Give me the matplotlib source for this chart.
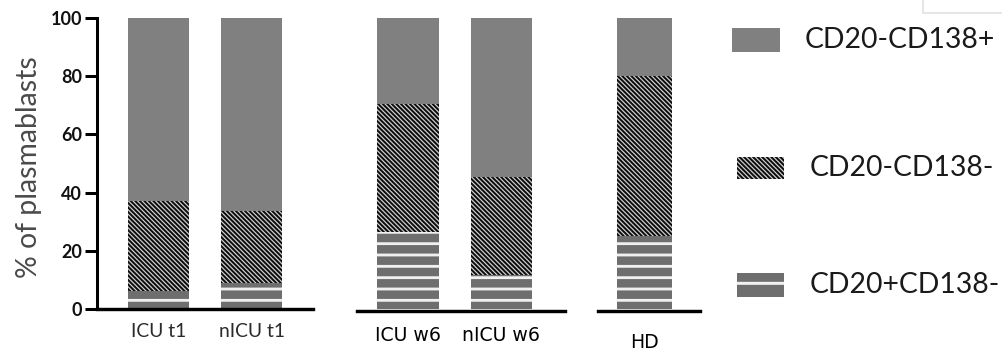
import matplotlib
matplotlib.use("Agg")
import matplotlib.pyplot as plt
from matplotlib.patches import Rectangle

# Stacked plasmablast subsets (% of plasmablasts), bottom to top
groups = [["ICU t1", "nICU t1"], ["ICU w6", "nICU w6"], ["HD"]]
series_names = ["CD20-CD138+", "CD20-CD138-", "CD20+CD138-"]
cd20pos_cd138neg = [[6.3, 9.0], [26.5, 11.7], [25.0]]
cd20neg_cd138neg = [[30.7, 24.7], [44.0, 33.8], [55.0]]
cd20neg_cd138pos = [[63.0, 66.3], [29.5, 54.5], [20.0]]
yticks = [0, 20, 40, 60, 80, 100]

DPI = 136
W, H = 1002, 353
FONT = "Lato"

styles = {
    "CD20-CD138+": dict(face="#808080", hcolor="#808080", hatch=None, hlw=1.0),
    "CD20-CD138-": dict(face="#0c0c0c", hcolor="#d0d0d0", hatch="\\" * 10, hlw=0.65),
    "CD20+CD138-": dict(face="#6e6e6e", hcolor="#f0f0f0", hatch="--", hlw=1.5),
}
# the legend swatch for the striped series shows a single stripe
legend_hatch = {"CD20+CD138-": ("-", 1.6)}


def styled_bar(ax, x, height, width, bottom, name):
    st = styles[name]
    with plt.rc_context({"hatch.linewidth": st["hlw"]}):
        bars = ax.bar(x, height, width, bottom=bottom, color=st["face"],
                      edgecolor=st["hcolor"], linewidth=0, hatch=st["hatch"])
    for p in bars:
        if hasattr(p, "set_hatch_linewidth"):
            p.set_hatch_linewidth(st["hlw"])
    return bars


def px_axes(fig, left, right, top, bottom):
    return fig.add_axes([left / W, 1 - bottom / H, (right - left) / W, (bottom - top) / H])


fig = plt.figure(figsize=(W / DPI, H / DPI), dpi=DPI)

# panel geometry: (left, right) in pixels, xlim, bar width, label font size, label y
panels = [
    dict(lr=(97, 313), xlim=(-0.661, 1.661), width=0.656, fs=10.2, lab_y=333),
    dict(lr=(357, 565), xlim=(-0.545, 1.68), width=0.66, fs=10.0, lab_y=333),
    dict(lr=(598, 700), xlim=(-0.507, 0.605), width=0.6, fs=7.4, lab_y=338),
]

axes = []
for gi, pan in enumerate(panels):
    ax = px_axes(fig, pan["lr"][0], pan["lr"][1], 18, 309)
    cats = groups[gi]
    xs = list(range(len(cats)))
    b1 = cd20pos_cd138neg[gi]
    b2 = cd20neg_cd138neg[gi]
    b3 = cd20neg_cd138pos[gi]
    styled_bar(ax, xs, b1, pan["width"], [0] * len(xs), "CD20+CD138-")
    styled_bar(ax, xs, b2, pan["width"], b1, "CD20-CD138-")
    styled_bar(ax, xs, b3, pan["width"], [a + b for a, b in zip(b1, b2)], "CD20-CD138+")
    ax.set_xlim(*pan["xlim"])
    ax.set_ylim(0, 100)
    ax.patch.set_visible(False)
    for s in ["top", "right"]:
        ax.spines[s].set_visible(False)
    ax.spines["bottom"].set_linewidth(1.8)
    ax.spines["bottom"].set_color("black")
    ax.set_xticks(xs)
    ax.set_xticklabels(cats, fontfamily=FONT, fontsize=pan["fs"], color="#2a2a2a")
    ax.tick_params(axis="x", length=0, pad=(pan["lab_y"] - 309) * 72 / DPI - pan["fs"] * 0.5)
    if gi == 0:
        ax.spines["left"].set_linewidth(1.6)
        ax.set_yticks(yticks)
        ax.set_yticklabels([str(t) for t in yticks], fontfamily=FONT,
                           fontweight="bold", fontsize=9.5, color="#111111")
        ax.tick_params(axis="y", length=6.3, width=1.6, pad=1.5)
        ax.text((29 - 97) / 216, (309 - 167) / 291, "% of plasmablasts",
                transform=ax.transAxes, rotation=90, ha="center", va="center",
                fontfamily=FONT, fontsize=15, color="#4a4a4a")
    else:
        ax.spines["left"].set_visible(False)
        ax.spines["bottom"].set_position(("outward", 1.2))
        ax.set_yticks([])
    axes.append(ax)

# legend drawn in pixel space
lax = fig.add_axes([0, 0, 1, 1])
lax.set_xlim(0, W)
lax.set_ylim(H, 0)
lax.axis("off")
legend_boxes = {
    "CD20-CD138+": ((732, 28, 48, 24), 805, 40),
    "CD20-CD138-": ((737, 157, 47, 22), 810, 168),
    "CD20+CD138-": ((737, 273, 47, 24), 810, 285),
}
for name in series_names:
    (x0, y0, w, h), tx, ty = legend_boxes[name]
    st = styles[name]
    hatch, hlw = legend_hatch.get(name, (st["hatch"], st["hlw"]))
    with plt.rc_context({"hatch.linewidth": hlw}):
        r = Rectangle((x0, y0), w, h, facecolor=st["face"], edgecolor=st["hcolor"],
                      linewidth=0, hatch=hatch)
    if hasattr(r, "set_hatch_linewidth"):
        r.set_hatch_linewidth(hlw)
    lax.add_patch(r)
    lax.text(tx, ty, name, fontfamily=FONT, fontsize=15, color="#1a1a1a",
             va="center", ha="left")

# thin frame fragment in the top-right corner
lax.plot([923.5, 923.5, W], [0, 13, 13], color="#dddddd", linewidth=0.8)

fig.savefig("out.png", dpi=DPI)
